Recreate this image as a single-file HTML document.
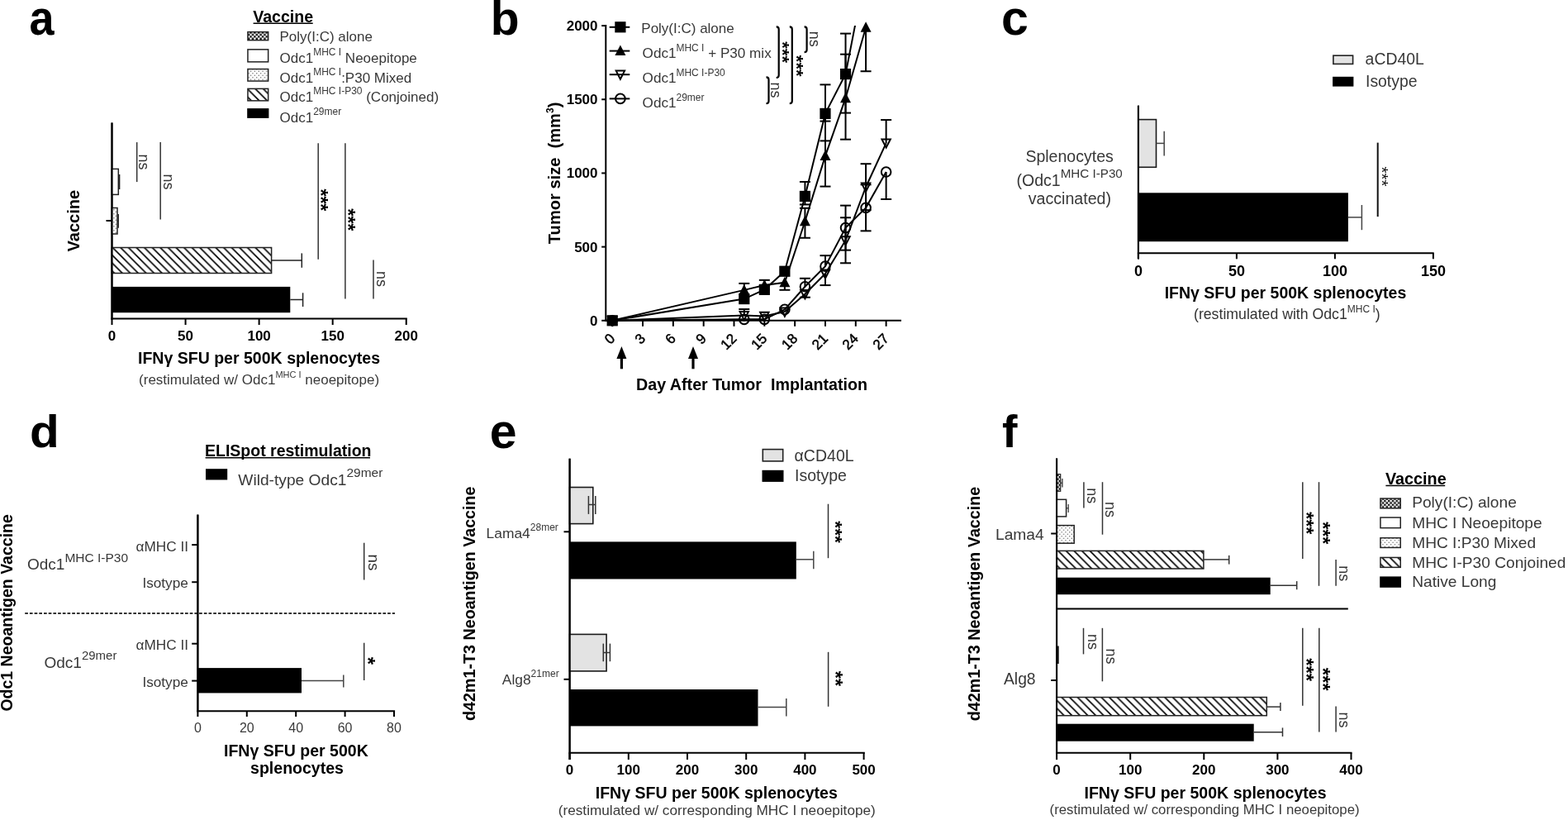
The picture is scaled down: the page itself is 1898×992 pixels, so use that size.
<!DOCTYPE html>
<html><head><meta charset="utf-8"><title>Figure</title><style>html,body{margin:0;padding:0;background:#fff;overflow:hidden}svg{display:block}</style></head><body>
<svg width="1898" height="992" viewBox="0 0 1898 992" font-family="'Liberation Sans', Arial, Helvetica, sans-serif">
<defs><pattern id="pCross" width="4.8" height="4.8" patternUnits="userSpaceOnUse"><rect width="4.8" height="4.8" fill="#fff"/><rect width="2.4" height="2.4" fill="#111"/><rect x="2.4" y="2.4" width="2.4" height="2.4" fill="#111"/></pattern><pattern id="pDots" width="4.8" height="5" patternUnits="userSpaceOnUse"><rect width="4.8" height="5" fill="#fff"/><circle cx="1.2" cy="1.2" r="0.75" fill="#666"/><circle cx="3.6" cy="3.7" r="0.75" fill="#666"/></pattern><pattern id="pHatch" width="9.6" height="9.6" patternUnits="userSpaceOnUse"><rect width="9.6" height="9.6" fill="#fff"/><path d="M-2.4,-2.4 L12,12 M-2.4,7.2 L2.4,12 M7.2,-2.4 L12,2.4" stroke="#000" stroke-width="1.65"/></pattern></defs>
<rect width="1898" height="992" fill="#fff"/>
<text x="35.3" y="41.5" font-size="59" font-weight="bold" fill="#000" transform="translate(37.5 0) scale(0.915 1) translate(-37.5 0)">a</text>
<text x="306.2" y="26.6" font-size="19.6" font-weight="bold" fill="#000">Vaccine</text>
<line x1="306.6" y1="28.2" x2="378.7" y2="28.2" stroke="#000" stroke-width="1.5"/>
<rect x="299.95" y="38.65" width="24.7" height="10" fill="url(#pCross)" stroke="#222" stroke-width="1.5"/>
<rect x="299.95" y="59.85" width="24.7" height="15" fill="#fff" stroke="#222" stroke-width="1.5"/>
<rect x="299.95" y="83.55" width="24.7" height="14.5" fill="url(#pDots)" stroke="#222" stroke-width="1.5"/>
<rect x="299.95" y="107.35" width="24.7" height="14.5" fill="url(#pHatch)" stroke="#222" stroke-width="1.5"/>
<rect x="299.2" y="131.1" width="26.2" height="11.8" fill="#000"/>
<text x="338.5" y="50.1" font-size="17" fill="#383838">Poly(I:C) alone</text>
<text x="338.5" y="75.9" font-size="17" fill="#383838">Odc1<tspan font-size="12" dy="-9">MHC I</tspan><tspan dy="9"> Neoepitope</tspan></text>
<text x="338.5" y="99.5" font-size="17" fill="#383838">Odc1<tspan font-size="12" dy="-9">MHC I</tspan><tspan dy="9">:P30 Mixed</tspan></text>
<text x="338.5" y="123.1" font-size="17" fill="#383838">Odc1<tspan font-size="12" dy="-9">MHC I-P30</tspan><tspan dy="9"> (Conjoined)</tspan></text>
<text x="338.5" y="148.4" font-size="17" fill="#383838">Odc1<tspan font-size="12" dy="-9">29mer</tspan></text>
<line x1="135.5" y1="148.5" x2="135.5" y2="386.5" stroke="#000" stroke-width="2"/>
<line x1="134.5" y1="385.5" x2="492.8" y2="385.5" stroke="#000" stroke-width="2"/>
<line x1="135.5" y1="385.5" x2="135.5" y2="393" stroke="#000" stroke-width="2"/>
<text x="135.5" y="411.5" font-size="17" font-weight="bold" text-anchor="middle" fill="#000">0</text>
<line x1="224.56" y1="385.5" x2="224.56" y2="393" stroke="#000" stroke-width="2"/>
<text x="224.56" y="411.5" font-size="17" font-weight="bold" text-anchor="middle" fill="#000">50</text>
<line x1="313.62" y1="385.5" x2="313.62" y2="393" stroke="#000" stroke-width="2"/>
<text x="313.62" y="411.5" font-size="17" font-weight="bold" text-anchor="middle" fill="#000">100</text>
<line x1="402.68" y1="385.5" x2="402.68" y2="393" stroke="#000" stroke-width="2"/>
<text x="402.68" y="411.5" font-size="17" font-weight="bold" text-anchor="middle" fill="#000">150</text>
<line x1="491.74" y1="385.5" x2="491.74" y2="393" stroke="#000" stroke-width="2"/>
<text x="491.74" y="411.5" font-size="17" font-weight="bold" text-anchor="middle" fill="#000">200</text>
<line x1="128.5" y1="267" x2="135.5" y2="267" stroke="#000" stroke-width="2"/>
<text x="95.6" y="267.2" font-size="20" font-weight="bold" text-anchor="middle" fill="#000" transform="rotate(-90 95.6 267.2)">Vaccine</text>
<text x="313.5" y="440.2" font-size="19.55" font-weight="bold" text-anchor="middle" fill="#000">IFN&#947; SFU per 500K splenocytes</text>
<text x="313.6" y="464.8" font-size="17" text-anchor="middle" fill="#3a3a3a">(restimulated w/ Odc1<tspan font-size="11" dy="-8">MHC I</tspan><tspan dy="8"> neoepitope)</tspan></text>
<rect x="135.5" y="204.4" width="7.8" height="31" fill="#fff" stroke="#222" stroke-width="1.5"/>
<line x1="143.3" y1="220" x2="144.6" y2="220" stroke="#222" stroke-width="1.5"/>
<line x1="144.6" y1="211" x2="144.6" y2="229" stroke="#222" stroke-width="1.5"/>
<rect x="135.5" y="251.5" width="6.5" height="31.5" fill="url(#pDots)" stroke="#222" stroke-width="1.5"/>
<line x1="142" y1="267.3" x2="143.2" y2="267.3" stroke="#222" stroke-width="1.5"/>
<line x1="143.2" y1="259" x2="143.2" y2="275.8" stroke="#222" stroke-width="1.5"/>
<rect x="135.5" y="299.5" width="193.1" height="31" fill="url(#pHatch)" stroke="#222" stroke-width="1.5"/>
<line x1="328.6" y1="315" x2="365.3" y2="315" stroke="#222" stroke-width="1.5"/>
<line x1="365.3" y1="306.4" x2="365.3" y2="323.8" stroke="#222" stroke-width="1.5"/>
<rect x="135.5" y="346.9" width="215.8" height="31.3" fill="#000"/>
<line x1="351.3" y1="362.5" x2="366.6" y2="362.5" stroke="#222" stroke-width="1.5"/>
<line x1="366.6" y1="354.3" x2="366.6" y2="371" stroke="#222" stroke-width="1.5"/>
<line x1="135.5" y1="148.5" x2="135.5" y2="386.5" stroke="#000" stroke-width="2"/>
<line x1="165.7" y1="172.1" x2="165.7" y2="220.1" stroke="#333" stroke-width="1.5"/>
<text x="168.3" y="195.9" font-size="18" text-anchor="middle" fill="#333" transform="rotate(90 168.3 195.9)">ns</text>
<line x1="194.2" y1="172.1" x2="194.2" y2="265.6" stroke="#333" stroke-width="1.5"/>
<text x="197.9" y="219.9" font-size="18" text-anchor="middle" fill="#333" transform="rotate(90 197.9 219.9)">ns</text>
<line x1="385.2" y1="173.3" x2="385.2" y2="313.7" stroke="#333" stroke-width="1.5"/>
<text x="380.4" y="241.9" font-size="23" font-weight="bold" text-anchor="middle" fill="#000" transform="rotate(90 380.4 241.9)">***</text>
<line x1="417.9" y1="173.3" x2="417.9" y2="361.6" stroke="#333" stroke-width="1.5"/>
<text x="412.8" y="265.7" font-size="23" font-weight="bold" text-anchor="middle" fill="#000" transform="rotate(90 412.8 265.7)">***</text>
<line x1="452" y1="314.4" x2="452" y2="361.6" stroke="#333" stroke-width="1.5"/>
<text x="455.8" y="337.5" font-size="18" text-anchor="middle" fill="#333" transform="rotate(90 455.8 337.5)">ns</text>
<text x="593.8" y="41.8" font-size="57" font-weight="bold" fill="#000">b</text>
<line x1="733.3" y1="30" x2="733.3" y2="388.8" stroke="#000" stroke-width="2"/>
<line x1="732.3" y1="387.8" x2="1091" y2="387.8" stroke="#000" stroke-width="2"/>
<line x1="728.2" y1="387.8" x2="733.3" y2="387.8" stroke="#000" stroke-width="2"/>
<text x="723.5" y="393.8" font-size="17" font-weight="bold" text-anchor="end" fill="#000">0</text>
<line x1="728.2" y1="298.62" x2="733.3" y2="298.62" stroke="#000" stroke-width="2"/>
<text x="723.5" y="304.62" font-size="17" font-weight="bold" text-anchor="end" fill="#000">500</text>
<line x1="728.2" y1="209.45" x2="733.3" y2="209.45" stroke="#000" stroke-width="2"/>
<text x="723.5" y="215.45" font-size="17" font-weight="bold" text-anchor="end" fill="#000">1000</text>
<line x1="728.2" y1="120.27" x2="733.3" y2="120.27" stroke="#000" stroke-width="2"/>
<text x="723.5" y="126.27" font-size="17" font-weight="bold" text-anchor="end" fill="#000">1500</text>
<line x1="728.2" y1="31.1" x2="733.3" y2="31.1" stroke="#000" stroke-width="2"/>
<text x="723.5" y="37.1" font-size="17" font-weight="bold" text-anchor="end" fill="#000">2000</text>
<line x1="741.2" y1="387.8" x2="741.2" y2="394.8" stroke="#000" stroke-width="2"/>
<text x="745.4" y="410.6" font-size="17" text-anchor="end" fill="#000" transform="rotate(-45 745.4 410.6)" stroke="#000" stroke-width="0.5">0</text>
<line x1="778.03" y1="387.8" x2="778.03" y2="394.8" stroke="#000" stroke-width="2"/>
<text x="782.23" y="410.6" font-size="17" text-anchor="end" fill="#000" transform="rotate(-45 782.23 410.6)" stroke="#000" stroke-width="0.5">3</text>
<line x1="814.85" y1="387.8" x2="814.85" y2="394.8" stroke="#000" stroke-width="2"/>
<text x="819.05" y="410.6" font-size="17" text-anchor="end" fill="#000" transform="rotate(-45 819.05 410.6)" stroke="#000" stroke-width="0.5">6</text>
<line x1="851.68" y1="387.8" x2="851.68" y2="394.8" stroke="#000" stroke-width="2"/>
<text x="855.88" y="410.6" font-size="17" text-anchor="end" fill="#000" transform="rotate(-45 855.88 410.6)" stroke="#000" stroke-width="0.5">9</text>
<line x1="888.5" y1="387.8" x2="888.5" y2="394.8" stroke="#000" stroke-width="2"/>
<text x="892.7" y="410.6" font-size="17" text-anchor="end" fill="#000" transform="rotate(-45 892.7 410.6)" stroke="#000" stroke-width="0.5">12</text>
<line x1="925.33" y1="387.8" x2="925.33" y2="394.8" stroke="#000" stroke-width="2"/>
<text x="929.53" y="410.6" font-size="17" text-anchor="end" fill="#000" transform="rotate(-45 929.53 410.6)" stroke="#000" stroke-width="0.5">15</text>
<line x1="962.15" y1="387.8" x2="962.15" y2="394.8" stroke="#000" stroke-width="2"/>
<text x="966.35" y="410.6" font-size="17" text-anchor="end" fill="#000" transform="rotate(-45 966.35 410.6)" stroke="#000" stroke-width="0.5">18</text>
<line x1="998.98" y1="387.8" x2="998.98" y2="394.8" stroke="#000" stroke-width="2"/>
<text x="1003.18" y="410.6" font-size="17" text-anchor="end" fill="#000" transform="rotate(-45 1003.18 410.6)" stroke="#000" stroke-width="0.5">21</text>
<line x1="1035.8" y1="387.8" x2="1035.8" y2="394.8" stroke="#000" stroke-width="2"/>
<text x="1040" y="410.6" font-size="17" text-anchor="end" fill="#000" transform="rotate(-45 1040 410.6)" stroke="#000" stroke-width="0.5">24</text>
<line x1="1072.62" y1="387.8" x2="1072.62" y2="394.8" stroke="#000" stroke-width="2"/>
<text x="1076.83" y="410.6" font-size="17" text-anchor="end" fill="#000" transform="rotate(-45 1076.83 410.6)" stroke="#000" stroke-width="0.5">27</text>
<text x="678" y="209.4" font-size="20.1" font-weight="bold" text-anchor="middle" fill="#000" transform="rotate(-90 678 209.4)">Tumor size&#160;&#160;(mm<tspan font-size="12" dy="-8">3</tspan><tspan dy="8">)</tspan></text>
<text x="910" y="471.8" font-size="19.7" font-weight="bold" text-anchor="middle" fill="#000">Day After Tumor&#160;&#160;Implantation</text>
<line x1="752.4" y1="430" x2="752.4" y2="446.3" stroke="#000" stroke-width="3.2"/>
<path d="M752.4,419 L746.4,434 L758.4,434 Z" fill="#000"/>
<line x1="839" y1="430" x2="839" y2="446.3" stroke="#000" stroke-width="3.2"/>
<path d="M839,419 L833,434 L845,434 Z" fill="#000"/>
<clipPath id="cpB"><rect x="733" y="31" width="400" height="380"/></clipPath>
<line x1="974.43" y1="336.78" x2="974.43" y2="346.78" stroke="#000" stroke-width="2"/>
<line x1="967.93" y1="336.78" x2="980.93" y2="336.78" stroke="#000" stroke-width="2"/>
<line x1="998.98" y1="309.17" x2="998.98" y2="322.17" stroke="#000" stroke-width="2"/>
<line x1="992.48" y1="309.17" x2="1005.48" y2="309.17" stroke="#000" stroke-width="2"/>
<line x1="1023.53" y1="248.62" x2="1023.53" y2="302.62" stroke="#000" stroke-width="2"/>
<line x1="1017.03" y1="248.62" x2="1030.03" y2="248.62" stroke="#000" stroke-width="2"/>
<line x1="1017.03" y1="302.62" x2="1030.03" y2="302.62" stroke="#000" stroke-width="2"/>
<line x1="1048.08" y1="223.36" x2="1048.08" y2="279.36" stroke="#000" stroke-width="2"/>
<line x1="1041.58" y1="223.36" x2="1054.58" y2="223.36" stroke="#000" stroke-width="2"/>
<line x1="1041.58" y1="279.36" x2="1054.58" y2="279.36" stroke="#000" stroke-width="2"/>
<line x1="1072.62" y1="208.02" x2="1072.62" y2="241.02" stroke="#000" stroke-width="2"/>
<line x1="1066.12" y1="241.02" x2="1079.12" y2="241.02" stroke="#000" stroke-width="2"/>
<line x1="900.78" y1="374.06" x2="900.78" y2="381.56" stroke="#000" stroke-width="2"/>
<line x1="894.28" y1="374.06" x2="907.28" y2="374.06" stroke="#000" stroke-width="2"/>
<line x1="974.43" y1="355.7" x2="974.43" y2="359.7" stroke="#000" stroke-width="2"/>
<line x1="967.93" y1="359.7" x2="980.93" y2="359.7" stroke="#000" stroke-width="2"/>
<line x1="998.98" y1="331.08" x2="998.98" y2="345.08" stroke="#000" stroke-width="2"/>
<line x1="992.48" y1="345.08" x2="1005.48" y2="345.08" stroke="#000" stroke-width="2"/>
<line x1="1023.53" y1="263.28" x2="1023.53" y2="318.28" stroke="#000" stroke-width="2"/>
<line x1="1017.03" y1="263.28" x2="1030.03" y2="263.28" stroke="#000" stroke-width="2"/>
<line x1="1017.03" y1="318.28" x2="1030.03" y2="318.28" stroke="#000" stroke-width="2"/>
<line x1="1048.08" y1="198.21" x2="1048.08" y2="254.21" stroke="#000" stroke-width="2"/>
<line x1="1041.58" y1="198.21" x2="1054.58" y2="198.21" stroke="#000" stroke-width="2"/>
<line x1="1041.58" y1="254.21" x2="1054.58" y2="254.21" stroke="#000" stroke-width="2"/>
<line x1="1072.62" y1="145.07" x2="1072.62" y2="173.07" stroke="#000" stroke-width="2"/>
<line x1="1066.12" y1="145.07" x2="1079.12" y2="145.07" stroke="#000" stroke-width="2"/>
<line x1="900.78" y1="342.88" x2="900.78" y2="350.88" stroke="#000" stroke-width="2"/>
<line x1="894.28" y1="342.88" x2="907.28" y2="342.88" stroke="#000" stroke-width="2"/>
<line x1="949.88" y1="341.79" x2="949.88" y2="350.79" stroke="#000" stroke-width="2"/>
<line x1="943.38" y1="350.79" x2="956.38" y2="350.79" stroke="#000" stroke-width="2"/>
<line x1="974.43" y1="251.77" x2="974.43" y2="287.77" stroke="#000" stroke-width="2"/>
<line x1="967.93" y1="251.77" x2="980.93" y2="251.77" stroke="#000" stroke-width="2"/>
<line x1="967.93" y1="287.77" x2="980.93" y2="287.77" stroke="#000" stroke-width="2"/>
<line x1="998.98" y1="146.58" x2="998.98" y2="225.58" stroke="#000" stroke-width="2"/>
<line x1="992.48" y1="146.58" x2="1005.48" y2="146.58" stroke="#000" stroke-width="2"/>
<line x1="992.48" y1="225.58" x2="1005.48" y2="225.58" stroke="#000" stroke-width="2"/>
<line x1="1023.53" y1="65.67" x2="1023.53" y2="168.67" stroke="#000" stroke-width="2"/>
<line x1="1017.03" y1="65.67" x2="1030.03" y2="65.67" stroke="#000" stroke-width="2"/>
<line x1="1017.03" y1="168.67" x2="1030.03" y2="168.67" stroke="#000" stroke-width="2"/>
<line x1="1048.08" y1="33.24" x2="1048.08" y2="86.24" stroke="#000" stroke-width="2"/>
<line x1="1041.58" y1="86.24" x2="1054.58" y2="86.24" stroke="#000" stroke-width="2"/>
<line x1="925.33" y1="338.85" x2="925.33" y2="350.35" stroke="#000" stroke-width="2"/>
<line x1="918.83" y1="338.85" x2="931.83" y2="338.85" stroke="#000" stroke-width="2"/>
<line x1="974.43" y1="219.95" x2="974.43" y2="247.45" stroke="#000" stroke-width="2"/>
<line x1="967.93" y1="219.95" x2="980.93" y2="219.95" stroke="#000" stroke-width="2"/>
<line x1="967.93" y1="247.45" x2="980.93" y2="247.45" stroke="#000" stroke-width="2"/>
<line x1="998.98" y1="102.4" x2="998.98" y2="170.4" stroke="#000" stroke-width="2"/>
<line x1="992.48" y1="102.4" x2="1005.48" y2="102.4" stroke="#000" stroke-width="2"/>
<line x1="992.48" y1="170.4" x2="1005.48" y2="170.4" stroke="#000" stroke-width="2"/>
<line x1="1023.53" y1="40.6" x2="1023.53" y2="136.6" stroke="#000" stroke-width="2"/>
<line x1="1017.03" y1="40.6" x2="1030.03" y2="40.6" stroke="#000" stroke-width="2"/>
<line x1="1017.03" y1="136.6" x2="1030.03" y2="136.6" stroke="#000" stroke-width="2"/>
<polyline points="741.2,387.8 900.78,386.37 925.33,386.37 949.88,374.42 974.43,346.78 998.98,322.17 1023.53,275.62 1048.08,251.36 1072.62,208.02" fill="none" stroke="#000" stroke-width="2" clip-path="url(#cpB)"/>
<polyline points="741.2,387.8 900.78,381.56 925.33,382.45 949.88,377.1 974.43,355.7 998.98,331.08 1023.53,290.78 1048.08,226.21 1072.62,173.07" fill="none" stroke="#000" stroke-width="2" clip-path="url(#cpB)"/>
<polyline points="741.2,387.8 900.78,350.88 925.33,345 949.88,341.79 974.43,267.77 998.98,188.58 1023.53,118.67 1048.08,33.24" fill="none" stroke="#000" stroke-width="2" clip-path="url(#cpB)"/>
<polyline points="741.2,387.8 900.78,361.58 925.33,350.35 949.88,328.23 974.43,237.45 998.98,137.4 1023.53,89.6 1048.08,-35.96" fill="none" stroke="#000" stroke-width="2" clip-path="url(#cpB)"/>
<circle cx="741.2" cy="387.8" r="5.8" fill="none" stroke="#000" stroke-width="2"/>
<circle cx="900.78" cy="386.37" r="5.8" fill="none" stroke="#000" stroke-width="2"/>
<circle cx="925.33" cy="386.37" r="5.8" fill="none" stroke="#000" stroke-width="2"/>
<circle cx="949.88" cy="374.42" r="5.8" fill="none" stroke="#000" stroke-width="2"/>
<circle cx="974.43" cy="346.78" r="5.8" fill="none" stroke="#000" stroke-width="2"/>
<circle cx="998.98" cy="322.17" r="5.8" fill="none" stroke="#000" stroke-width="2"/>
<circle cx="1023.53" cy="275.62" r="5.8" fill="none" stroke="#000" stroke-width="2"/>
<circle cx="1048.08" cy="251.36" r="5.8" fill="none" stroke="#000" stroke-width="2"/>
<circle cx="1072.62" cy="208.02" r="5.8" fill="none" stroke="#000" stroke-width="2"/>
<path d="M741.2,393.4 L736,383.2 L746.4,383.2 Z" fill="none" stroke="#000" stroke-width="2"/>
<path d="M900.78,387.16 L895.58,376.96 L905.98,376.96 Z" fill="none" stroke="#000" stroke-width="2"/>
<path d="M925.33,388.05 L920.12,377.85 L930.53,377.85 Z" fill="none" stroke="#000" stroke-width="2"/>
<path d="M949.88,382.7 L944.67,372.5 L955.08,372.5 Z" fill="none" stroke="#000" stroke-width="2"/>
<path d="M974.43,361.3 L969.23,351.1 L979.63,351.1 Z" fill="none" stroke="#000" stroke-width="2"/>
<path d="M998.98,336.68 L993.78,326.48 L1004.18,326.48 Z" fill="none" stroke="#000" stroke-width="2"/>
<path d="M1023.53,296.38 L1018.33,286.18 L1028.73,286.18 Z" fill="none" stroke="#000" stroke-width="2"/>
<path d="M1048.08,231.81 L1042.88,221.61 L1053.28,221.61 Z" fill="none" stroke="#000" stroke-width="2"/>
<path d="M1072.62,178.67 L1067.42,168.47 L1077.83,168.47 Z" fill="none" stroke="#000" stroke-width="2"/>
<path d="M741.2,380.8 L734.7,393.3 L747.7,393.3 Z" fill="#000"/>
<path d="M900.78,343.88 L894.28,356.38 L907.28,356.38 Z" fill="#000"/>
<path d="M925.33,338 L918.83,350.5 L931.83,350.5 Z" fill="#000"/>
<path d="M949.88,334.79 L943.38,347.29 L956.38,347.29 Z" fill="#000"/>
<path d="M974.43,260.77 L967.93,273.27 L980.93,273.27 Z" fill="#000"/>
<path d="M998.98,181.58 L992.48,194.08 L1005.48,194.08 Z" fill="#000"/>
<path d="M1023.53,111.67 L1017.03,124.17 L1030.03,124.17 Z" fill="#000"/>
<path d="M1048.08,26.24 L1041.58,38.74 L1054.58,38.74 Z" fill="#000"/>
<rect x="734.6" y="381.2" width="13.2" height="13.2" fill="#000"/>
<rect x="894.18" y="354.98" width="13.2" height="13.2" fill="#000"/>
<rect x="918.73" y="343.75" width="13.2" height="13.2" fill="#000"/>
<rect x="943.27" y="321.63" width="13.2" height="13.2" fill="#000"/>
<rect x="967.83" y="230.85" width="13.2" height="13.2" fill="#000"/>
<rect x="992.38" y="130.8" width="13.2" height="13.2" fill="#000"/>
<rect x="1016.93" y="83" width="13.2" height="13.2" fill="#000"/>
<line x1="737.7" y1="32.8" x2="762.3" y2="32.8" stroke="#000" stroke-width="2"/>
<rect x="744.3" y="26.2" width="13.2" height="13.2" fill="#000"/>
<line x1="737.7" y1="61.6" x2="762.3" y2="61.6" stroke="#000" stroke-width="2"/>
<path d="M750.9,54.6 L744.4,67.1 L757.4,67.1 Z" fill="#000"/>
<line x1="737.7" y1="90.2" x2="762.3" y2="90.2" stroke="#000" stroke-width="2"/>
<path d="M750.9,95.8 L745.7,85.6 L756.1,85.6 Z" fill="none" stroke="#000" stroke-width="2"/>
<line x1="737.7" y1="119.4" x2="762.3" y2="119.4" stroke="#000" stroke-width="2"/>
<circle cx="750.9" cy="119.4" r="5.8" fill="none" stroke="#000" stroke-width="2"/>
<text x="776.3" y="39.5" font-size="17" fill="#383838">Poly(I:C) alone</text>
<text x="777.6" y="70.3" font-size="17.1" fill="#383838">Odc1<tspan font-size="12" dy="-8">MHC I</tspan><tspan dy="8"> + P30 mix</tspan></text>
<text x="777.6" y="100.4" font-size="17.1" fill="#383838">Odc1<tspan font-size="12" dy="-8">MHC I-P30</tspan></text>
<text x="777.6" y="129.9" font-size="17.1" fill="#383838">Odc1<tspan font-size="12" dy="-8">29mer</tspan></text>
<path d="M939.7,32.4 Q942.7,32.4 942.7,35.4 L942.7,91 Q942.7,94 939.7,94" fill="none" stroke="#000" stroke-width="2.2"/>
<text x="940.4" y="63.2" font-size="22" font-weight="bold" text-anchor="middle" fill="#000" transform="rotate(90 940.4 63.2)">***</text>
<path d="M955.8,32.4 Q958.8,32.4 958.8,35.4 L958.8,122.2 Q958.8,125.2 955.8,125.2" fill="none" stroke="#000" stroke-width="2.2"/>
<text x="957.2" y="79.7" font-size="22" font-weight="bold" text-anchor="middle" fill="#000" transform="rotate(90 957.2 79.7)">***</text>
<path d="M973.6,32.4 Q976.6,32.4 976.6,35.4 L976.6,60.2 Q976.6,63.2 973.6,63.2" fill="none" stroke="#000" stroke-width="2.2"/>
<text x="979.5" y="47.2" font-size="18" text-anchor="middle" fill="#333" transform="rotate(90 979.5 47.2)">ns</text>
<path d="M927.5,93.4 Q930.5,93.4 930.5,96.4 L930.5,122.2 Q930.5,125.2 927.5,125.2" fill="none" stroke="#000" stroke-width="2.2"/>
<text x="932.5" y="109" font-size="18" text-anchor="middle" fill="#333" transform="rotate(90 932.5 109)">ns</text>
<text x="1212" y="41.5" font-size="59" font-weight="bold" fill="#000">c</text>
<rect x="1613.9" y="67.2" width="23.7" height="10.2" fill="#e3e3e3" stroke="#222" stroke-width="1.6"/>
<rect x="1613.1" y="92.8" width="25.3" height="11.8" fill="#000"/>
<text x="1652.6" y="78.2" font-size="19.4" fill="#383838">aCD40L</text>
<text x="1653" y="104.6" font-size="19.4" fill="#383838">Isotype</text>
<line x1="1377.9" y1="127.7" x2="1377.9" y2="313.3" stroke="#000" stroke-width="2"/>
<line x1="1376.9" y1="306.3" x2="1735.7" y2="306.3" stroke="#000" stroke-width="2"/>
<line x1="1377.9" y1="306.3" x2="1377.9" y2="313.3" stroke="#000" stroke-width="2"/>
<text x="1377.9" y="333.9" font-size="18" font-weight="bold" text-anchor="middle" fill="#000">0</text>
<line x1="1496.9" y1="306.3" x2="1496.9" y2="313.3" stroke="#000" stroke-width="2"/>
<text x="1496.9" y="333.9" font-size="18" font-weight="bold" text-anchor="middle" fill="#000">50</text>
<line x1="1615.9" y1="306.3" x2="1615.9" y2="313.3" stroke="#000" stroke-width="2"/>
<text x="1615.9" y="333.9" font-size="18" font-weight="bold" text-anchor="middle" fill="#000">100</text>
<line x1="1734.9" y1="306.3" x2="1734.9" y2="313.3" stroke="#000" stroke-width="2"/>
<text x="1734.9" y="333.9" font-size="18" font-weight="bold" text-anchor="middle" fill="#000">150</text>
<rect x="1377.9" y="144.6" width="21.6" height="57.7" fill="#e3e3e3" stroke="#1a1a1a" stroke-width="1.6"/>
<line x1="1399.5" y1="173.4" x2="1409.2" y2="173.4" stroke="#444" stroke-width="1.5"/>
<line x1="1409.2" y1="158.7" x2="1409.2" y2="188.6" stroke="#444" stroke-width="1.5"/>
<rect x="1377.9" y="233.3" width="254" height="58.9" fill="#000"/>
<line x1="1631.9" y1="262.9" x2="1648.4" y2="262.9" stroke="#444" stroke-width="1.5"/>
<line x1="1648.4" y1="248" x2="1648.4" y2="278.2" stroke="#444" stroke-width="1.5"/>
<line x1="1377.9" y1="127.7" x2="1377.9" y2="313.3" stroke="#000" stroke-width="2"/>
<line x1="1667.7" y1="172.6" x2="1667.7" y2="262.1" stroke="#111" stroke-width="2"/>
<text x="1666.3" y="213.4" font-size="20.5" text-anchor="middle" fill="#111" transform="rotate(90 1666.3 213.4)">***</text>
<text x="1294.6" y="195.6" font-size="19.55" text-anchor="middle" fill="#383838">Splenocytes</text>
<text x="1230.6" y="225.3" font-size="19.5" fill="#383838">(Odc1<tspan font-size="15.2" dy="-10">MHC I-P30</tspan></text>
<text x="1294.9" y="247" font-size="19.6" text-anchor="middle" fill="#383838">vaccinated)</text>
<text x="1556" y="360.5" font-size="19.5" font-weight="bold" text-anchor="middle" fill="#000">IFN&#947; SFU per 500K splenocytes</text>
<text x="1445" y="386.4" font-size="17.7" fill="#333">(restimulated with Odc1<tspan font-size="12" dy="-8">MHC I</tspan><tspan dy="8">)</tspan></text>
<text x="36" y="541.2" font-size="55.5" font-weight="bold" fill="#000" transform="translate(38 0) scale(1.055 1) translate(-38 0)">d</text>
<text x="248" y="552" font-size="19.5" font-weight="bold" fill="#000">ELISpot restimulation</text>
<line x1="248.6" y1="553.8" x2="448" y2="553.8" stroke="#000" stroke-width="1.5"/>
<rect x="249" y="567.2" width="26.2" height="13.3" fill="#000"/>
<text x="288.3" y="586.6" font-size="19.2" fill="#383838">Wild-type Odc1<tspan font-size="15.5" dy="-10">29mer</tspan></text>
<line x1="239.4" y1="622.6" x2="239.4" y2="861.2" stroke="#000" stroke-width="2"/>
<line x1="238.4" y1="860.2" x2="478.1" y2="860.2" stroke="#000" stroke-width="2"/>
<line x1="239.4" y1="860.2" x2="239.4" y2="867" stroke="#000" stroke-width="2"/>
<text x="239.4" y="886" font-size="16" text-anchor="middle" fill="#3a3a3a">0</text>
<line x1="298.8" y1="860.2" x2="298.8" y2="867" stroke="#000" stroke-width="2"/>
<text x="298.8" y="886" font-size="16" text-anchor="middle" fill="#3a3a3a">20</text>
<line x1="358.2" y1="860.2" x2="358.2" y2="867" stroke="#000" stroke-width="2"/>
<text x="358.2" y="886" font-size="16" text-anchor="middle" fill="#3a3a3a">40</text>
<line x1="417.6" y1="860.2" x2="417.6" y2="867" stroke="#000" stroke-width="2"/>
<text x="417.6" y="886" font-size="16" text-anchor="middle" fill="#3a3a3a">60</text>
<line x1="477" y1="860.2" x2="477" y2="867" stroke="#000" stroke-width="2"/>
<text x="477" y="886" font-size="16" text-anchor="middle" fill="#3a3a3a">80</text>
<line x1="232.2" y1="659.1" x2="239.4" y2="659.1" stroke="#000" stroke-width="2"/>
<line x1="232.2" y1="704.2" x2="239.4" y2="704.2" stroke="#000" stroke-width="2"/>
<line x1="232.2" y1="778.7" x2="239.4" y2="778.7" stroke="#000" stroke-width="2"/>
<line x1="232.2" y1="823.6" x2="239.4" y2="823.6" stroke="#000" stroke-width="2"/>
<text x="228" y="666.6" font-size="17.2" text-anchor="end" fill="#383838">&#945;MHC II</text>
<text x="227.8" y="711.2" font-size="17.2" text-anchor="end" fill="#383838">Isotype</text>
<text x="228" y="786.1" font-size="17.2" text-anchor="end" fill="#383838">&#945;MHC II</text>
<text x="227.8" y="831" font-size="17.2" text-anchor="end" fill="#383838">Isotype</text>
<text x="33" y="688.6" font-size="19" fill="#383838">Odc1<tspan font-size="15.5" dy="-8.6">MHC I-P30</tspan></text>
<text x="53.5" y="807.5" font-size="19" fill="#383838">Odc1<tspan font-size="15" dy="-9.4">29mer</tspan></text>
<line x1="30.2" y1="742" x2="478" y2="742" stroke="#333" stroke-width="1.8" stroke-dasharray="3.7 2"/>
<rect x="239.4" y="808.1" width="125.6" height="30.3" fill="#000"/>
<line x1="365" y1="823.6" x2="415.8" y2="823.6" stroke="#444" stroke-width="1.5"/>
<line x1="415.8" y1="816.6" x2="415.8" y2="831.4" stroke="#444" stroke-width="1.5"/>
<line x1="239.4" y1="622.6" x2="239.4" y2="861.2" stroke="#000" stroke-width="2"/>
<line x1="440.7" y1="656.7" x2="440.7" y2="701.5" stroke="#333" stroke-width="1.5"/>
<text x="445.5" y="680.4" font-size="18.8" text-anchor="middle" fill="#333" transform="rotate(90 445.5 680.4)">ns</text>
<line x1="440.7" y1="777.7" x2="440.7" y2="823" stroke="#333" stroke-width="1.5"/>
<text x="436.6" y="799.5" font-size="24" font-weight="bold" text-anchor="middle" fill="#000" transform="rotate(90 436.6 799.5)">*</text>
<text x="15" y="741.4" font-size="19.5" font-weight="bold" text-anchor="middle" fill="#000" transform="rotate(-90 15 741.4)">Odc1 Neoantigen Vaccine</text>
<text x="358.4" y="914.6" font-size="19.55" font-weight="bold" text-anchor="middle" fill="#000">IFN&#947; SFU per 500K</text>
<text x="359.5" y="935.8" font-size="19.55" font-weight="bold" text-anchor="middle" fill="#000">splenocytes</text>
<text x="592.8" y="541.5" font-size="59" font-weight="bold" fill="#000">e</text>
<line x1="689.6" y1="554.7" x2="689.6" y2="919" stroke="#000" stroke-width="2"/>
<line x1="688.6" y1="910.7" x2="1046.8" y2="910.7" stroke="#000" stroke-width="2"/>
<line x1="689.6" y1="910.7" x2="689.6" y2="919" stroke="#000" stroke-width="2"/>
<text x="689.6" y="936.9" font-size="17" font-weight="bold" text-anchor="middle" fill="#000">0</text>
<line x1="760.8" y1="910.7" x2="760.8" y2="919" stroke="#000" stroke-width="2"/>
<text x="760.8" y="936.9" font-size="17" font-weight="bold" text-anchor="middle" fill="#000">100</text>
<line x1="832" y1="910.7" x2="832" y2="919" stroke="#000" stroke-width="2"/>
<text x="832" y="936.9" font-size="17" font-weight="bold" text-anchor="middle" fill="#000">200</text>
<line x1="903.2" y1="910.7" x2="903.2" y2="919" stroke="#000" stroke-width="2"/>
<text x="903.2" y="936.9" font-size="17" font-weight="bold" text-anchor="middle" fill="#000">300</text>
<line x1="974.4" y1="910.7" x2="974.4" y2="919" stroke="#000" stroke-width="2"/>
<text x="974.4" y="936.9" font-size="17" font-weight="bold" text-anchor="middle" fill="#000">400</text>
<line x1="1045.6" y1="910.7" x2="1045.6" y2="919" stroke="#000" stroke-width="2"/>
<text x="1045.6" y="936.9" font-size="17" font-weight="bold" text-anchor="middle" fill="#000">500</text>
<line x1="682.5" y1="643.3" x2="689.6" y2="643.3" stroke="#000" stroke-width="2"/>
<line x1="682.5" y1="821.8" x2="689.6" y2="821.8" stroke="#000" stroke-width="2"/>
<rect x="923.3" y="543.6" width="24.4" height="14.3" fill="#e3e3e3" stroke="#222" stroke-width="1.6"/>
<rect x="922.5" y="568.8" width="26" height="14.1" fill="#000"/>
<text x="961.6" y="558.3" font-size="19.5" fill="#383838">&#945;CD40L</text>
<text x="962" y="581.5" font-size="19.5" fill="#383838">Isotype</text>
<rect x="689.6" y="589.5" width="28.2" height="44.1" fill="#e3e3e3" stroke="#1a1a1a" stroke-width="1.6"/>
<line x1="712.4" y1="610.5" x2="720.8" y2="610.5" stroke="#333" stroke-width="1.5"/>
<line x1="712.4" y1="600" x2="712.4" y2="621.9" stroke="#333" stroke-width="1.5"/>
<line x1="720.8" y1="600" x2="720.8" y2="621.9" stroke="#333" stroke-width="1.5"/>
<rect x="689.6" y="655.4" width="274.2" height="45.1" fill="#000"/>
<line x1="963.8" y1="676.8" x2="984.8" y2="676.8" stroke="#444" stroke-width="1.5"/>
<line x1="984.8" y1="666.7" x2="984.8" y2="688.3" stroke="#444" stroke-width="1.5"/>
<line x1="1002.5" y1="609.7" x2="1002.5" y2="675.2" stroke="#333" stroke-width="1.5"/>
<text x="1003.5" y="643.6" font-size="22.8" font-weight="bold" text-anchor="middle" fill="#000" transform="rotate(90 1003.5 643.6)">***</text>
<rect x="689.6" y="767.4" width="44.5" height="44.5" fill="#e3e3e3" stroke="#1a1a1a" stroke-width="1.6"/>
<line x1="730.3" y1="789.5" x2="738.4" y2="789.5" stroke="#333" stroke-width="1.5"/>
<line x1="730.3" y1="778.6" x2="730.3" y2="800.2" stroke="#333" stroke-width="1.5"/>
<line x1="738.4" y1="778.6" x2="738.4" y2="800.2" stroke="#333" stroke-width="1.5"/>
<rect x="689.6" y="834" width="227.9" height="44.4" fill="#000"/>
<line x1="917.5" y1="855.6" x2="951.8" y2="855.6" stroke="#444" stroke-width="1.5"/>
<line x1="951.8" y1="844.9" x2="951.8" y2="866.5" stroke="#444" stroke-width="1.5"/>
<line x1="1002.6" y1="788.8" x2="1002.6" y2="854.8" stroke="#333" stroke-width="1.5"/>
<text x="1002.6" y="820.9" font-size="23.5" font-weight="bold" text-anchor="middle" fill="#000" transform="rotate(90 1002.6 820.9)">**</text>
<line x1="689.6" y1="554.7" x2="689.6" y2="919" stroke="#000" stroke-width="2"/>
<text x="588.6" y="650.7" font-size="17.4" fill="#383838">Lama4<tspan font-size="12" dy="-9">28mer</tspan></text>
<text x="607.8" y="828.3" font-size="17.4" fill="#383838">Alg8<tspan font-size="12" dy="-9">21mer</tspan></text>
<text x="574.8" y="730.2" font-size="19.7" font-weight="bold" text-anchor="middle" fill="#000" transform="rotate(-90 574.8 730.2)">d42m1-T3 Neoantigen Vaccine</text>
<text x="867.3" y="965.5" font-size="19.55" font-weight="bold" text-anchor="middle" fill="#000">IFN&#947; SFU per 500K splenocytes</text>
<text x="867.8" y="986.4" font-size="17.2" text-anchor="middle" fill="#3a3a3a">(restimulated w/ corresponding MHC I neoepitope)</text>
<text x="1213" y="541.2" font-size="55.5" font-weight="bold" fill="#000">f</text>
<line x1="1279.1" y1="554.5" x2="1279.1" y2="911.7" stroke="#000" stroke-width="2"/>
<line x1="1278.1" y1="910.7" x2="1636.5" y2="910.7" stroke="#000" stroke-width="2"/>
<line x1="1279.1" y1="910.7" x2="1279.1" y2="919.1" stroke="#000" stroke-width="2"/>
<text x="1279.1" y="937" font-size="17" font-weight="bold" text-anchor="middle" fill="#000">0</text>
<line x1="1368.2" y1="910.7" x2="1368.2" y2="919.1" stroke="#000" stroke-width="2"/>
<text x="1368.2" y="937" font-size="17" font-weight="bold" text-anchor="middle" fill="#000">100</text>
<line x1="1457.3" y1="910.7" x2="1457.3" y2="919.1" stroke="#000" stroke-width="2"/>
<text x="1457.3" y="937" font-size="17" font-weight="bold" text-anchor="middle" fill="#000">200</text>
<line x1="1546.4" y1="910.7" x2="1546.4" y2="919.1" stroke="#000" stroke-width="2"/>
<text x="1546.4" y="937" font-size="17" font-weight="bold" text-anchor="middle" fill="#000">300</text>
<line x1="1635.5" y1="910.7" x2="1635.5" y2="919.1" stroke="#000" stroke-width="2"/>
<text x="1635.5" y="937" font-size="17" font-weight="bold" text-anchor="middle" fill="#000">400</text>
<line x1="1272.2" y1="645.5" x2="1279.1" y2="645.5" stroke="#000" stroke-width="2"/>
<line x1="1272.2" y1="823" x2="1279.1" y2="823" stroke="#000" stroke-width="2"/>
<line x1="1279.1" y1="736.4" x2="1631.8" y2="736.4" stroke="#000" stroke-width="2"/>
<text x="1205" y="652.6" font-size="19.2" fill="#383838">Lama4</text>
<text x="1215" y="828.3" font-size="19.3" fill="#383838">Alg8</text>
<text x="1185.5" y="730.5" font-size="19.7" font-weight="bold" text-anchor="middle" fill="#000" transform="rotate(-90 1185.5 730.5)">d42m1-T3 Neoantigen Vaccine</text>
<text x="1459" y="965.8" font-size="19.55" font-weight="bold" text-anchor="middle" fill="#000">IFN&#947; SFU per 500K splenocytes</text>
<text x="1458.1" y="985" font-size="16.8" text-anchor="middle" fill="#3a3a3a">(restimulated w/ corresponding MHC I neoepitope)</text>
<rect x="1279.1" y="573.7" width="4.6" height="20.6" fill="url(#pCross)" stroke="#222" stroke-width="1.2"/>
<line x1="1283.7" y1="584.3" x2="1285.9" y2="584.3" stroke="#333" stroke-width="1.3"/>
<line x1="1285.9" y1="579.1" x2="1285.9" y2="589.6" stroke="#333" stroke-width="1.3"/>
<rect x="1279.1" y="604.3" width="11.5" height="20.6" fill="#fff" stroke="#222" stroke-width="1.5"/>
<line x1="1290.6" y1="614.8" x2="1293.2" y2="614.8" stroke="#333" stroke-width="1.2"/>
<line x1="1293.2" y1="610" x2="1293.2" y2="620" stroke="#333" stroke-width="1.2"/>
<rect x="1279.1" y="635.6" width="21.1" height="21.6" fill="url(#pDots)" stroke="#222" stroke-width="1.5"/>
<rect x="1279.1" y="666.4" width="177.8" height="21.6" fill="url(#pHatch)" stroke="#222" stroke-width="1.5"/>
<line x1="1456.9" y1="676.9" x2="1487.7" y2="676.9" stroke="#333" stroke-width="1.5"/>
<line x1="1487.7" y1="671.9" x2="1487.7" y2="682.6" stroke="#333" stroke-width="1.5"/>
<rect x="1279.1" y="698.7" width="258.6" height="20.5" fill="#000"/>
<line x1="1537.7" y1="708.2" x2="1569.7" y2="708.2" stroke="#333" stroke-width="1.5"/>
<line x1="1569.7" y1="703.1" x2="1569.7" y2="713.2" stroke="#333" stroke-width="1.5"/>
<line x1="1311.9" y1="583.2" x2="1311.9" y2="614.4" stroke="#333" stroke-width="1.5"/>
<text x="1315.9" y="599.8" font-size="18" text-anchor="middle" fill="#333" transform="rotate(90 1315.9 599.8)">ns</text>
<line x1="1334.5" y1="583.2" x2="1334.5" y2="646.7" stroke="#333" stroke-width="1.5"/>
<text x="1338.4" y="616.4" font-size="18" text-anchor="middle" fill="#333" transform="rotate(90 1338.4 616.4)">ns</text>
<line x1="1576.8" y1="583.2" x2="1576.8" y2="675.9" stroke="#333" stroke-width="1.5"/>
<text x="1573" y="632.8" font-size="23.2" font-weight="bold" text-anchor="middle" fill="#000" transform="rotate(90 1573 632.8)">***</text>
<line x1="1596.5" y1="583.2" x2="1596.5" y2="708.8" stroke="#333" stroke-width="1.5"/>
<text x="1593.3" y="644.7" font-size="23.2" font-weight="bold" text-anchor="middle" fill="#000" transform="rotate(90 1593.3 644.7)">***</text>
<line x1="1617.1" y1="676.9" x2="1617.1" y2="708.8" stroke="#333" stroke-width="1.5"/>
<text x="1620.6" y="693.8" font-size="18" text-anchor="middle" fill="#333" transform="rotate(90 1620.6 693.8)">ns</text>
<rect x="1279.1" y="781.5" width="2.6" height="21.5" fill="#111"/>
<rect x="1279.1" y="843.5" width="254.2" height="22.2" fill="url(#pHatch)" stroke="#222" stroke-width="1.5"/>
<line x1="1533.3" y1="855.1" x2="1549.9" y2="855.1" stroke="#333" stroke-width="1.5"/>
<line x1="1549.9" y1="850.1" x2="1549.9" y2="859.9" stroke="#333" stroke-width="1.5"/>
<rect x="1279.1" y="875.7" width="238.6" height="21" fill="#000"/>
<line x1="1517.7" y1="885.7" x2="1552.5" y2="885.7" stroke="#333" stroke-width="1.5"/>
<line x1="1552.5" y1="880.4" x2="1552.5" y2="891" stroke="#333" stroke-width="1.5"/>
<line x1="1311.5" y1="759.8" x2="1311.5" y2="791.4" stroke="#333" stroke-width="1.5"/>
<text x="1316.5" y="776.5" font-size="18" text-anchor="middle" fill="#333" transform="rotate(90 1316.5 776.5)">ns</text>
<line x1="1334.4" y1="759.8" x2="1334.4" y2="824.3" stroke="#333" stroke-width="1.5"/>
<text x="1338.5" y="794" font-size="18" text-anchor="middle" fill="#333" transform="rotate(90 1338.5 794)">ns</text>
<line x1="1576.8" y1="759.8" x2="1576.8" y2="853.8" stroke="#333" stroke-width="1.5"/>
<text x="1572.6" y="810.2" font-size="24" font-weight="bold" text-anchor="middle" fill="#000" transform="rotate(90 1572.6 810.2)">***</text>
<line x1="1596.8" y1="759.8" x2="1596.8" y2="885.4" stroke="#333" stroke-width="1.5"/>
<text x="1593.2" y="821.7" font-size="24" font-weight="bold" text-anchor="middle" fill="#000" transform="rotate(90 1593.2 821.7)">***</text>
<line x1="1617.1" y1="854.6" x2="1617.1" y2="885.4" stroke="#333" stroke-width="1.5"/>
<text x="1621.4" y="871" font-size="18" text-anchor="middle" fill="#333" transform="rotate(90 1621.4 871)">ns</text>
<line x1="1279.1" y1="554.5" x2="1279.1" y2="911.7" stroke="#000" stroke-width="2"/>
<text x="1677" y="585.8" font-size="19.8" font-weight="bold" fill="#000">Vaccine</text>
<line x1="1677.4" y1="587.6" x2="1749.2" y2="587.6" stroke="#000" stroke-width="1.5"/>
<rect x="1670.95" y="603.05" width="24.3" height="11.8" fill="url(#pCross)" stroke="#222" stroke-width="1.5"/>
<rect x="1670.95" y="626.05" width="24.3" height="12.6" fill="#fff" stroke="#222" stroke-width="1.5"/>
<rect x="1670.95" y="650.75" width="24.3" height="11.7" fill="url(#pDots)" stroke="#222" stroke-width="1.5"/>
<rect x="1670.95" y="674.45" width="24.3" height="11.9" fill="url(#pHatch)" stroke="#222" stroke-width="1.5"/>
<rect x="1670.2" y="697.4" width="25.8" height="13.4" fill="#000"/>
<text x="1709.2" y="614" font-size="19.15" fill="#383838">Poly(I:C) alone</text>
<text x="1709.2" y="638.5" font-size="19.15" fill="#383838">MHC I Neoepitope</text>
<text x="1709.2" y="662.5" font-size="19.15" fill="#383838">MHC I:P30 Mixed</text>
<text x="1709.2" y="686.5" font-size="19.15" fill="#383838">MHC I-P30 Conjoined</text>
<text x="1709.2" y="709.7" font-size="19.15" fill="#383838">Native Long</text>
</svg>
</body></html>
